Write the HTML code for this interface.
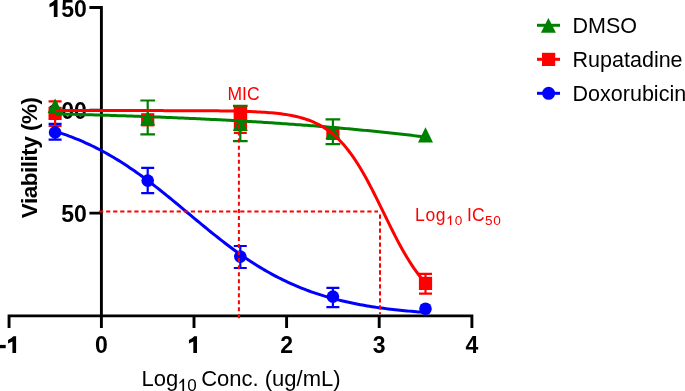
<!DOCTYPE html>
<html><head><meta charset="utf-8"><style>
html,body{margin:0;padding:0;background:#fff;width:685px;height:391px;overflow:hidden}
svg{position:absolute;left:0;top:0;display:block;will-change:transform}
text{font-family:"Liberation Sans",sans-serif}
</style></head><body>
<svg width="685" height="391" viewBox="0 0 685 391">
<g font-family="Liberation Sans, sans-serif" font-weight="bold" font-size="23" fill="#000">
<path d="M57.50 -0.01 L57.50 16.90 L53.82 16.90 L53.82 5.40 L49.45 7.24 L49.45 3.90 L52.90 1.83 L54.74 -0.01 Z" fill="#000"/>
<text x="86.8" y="16.9" text-anchor="end">50</text>
<path d="M57.50 102.50 L57.50 119.40 L53.82 119.40 L53.82 107.90 L49.45 109.74 L49.45 106.41 L52.90 104.34 L54.74 102.50 Z" fill="#000"/>
<text x="86.8" y="119.4" text-anchor="end">00</text>
<text x="86.8" y="222.1" text-anchor="end">50</text>
<text x="101.40" y="353.1" text-anchor="middle">0</text>
<text x="286.60" y="353.1" text-anchor="middle">2</text>
<text x="379.20" y="353.1" text-anchor="middle">3</text>
<text x="471.80" y="353.1" text-anchor="middle">4</text>
</g>
<rect x="-0.5" y="344.9" width="6.2" height="3.3" fill="#000"/>
<path d="M16.10 336.20 L16.10 353.10 L12.42 353.10 L12.42 341.60 L8.05 343.44 L8.05 340.11 L11.50 338.04 L13.34 336.20 Z" fill="#000"/>
<path d="M197.00 336.20 L197.00 353.10 L193.32 353.10 L193.32 341.60 L188.95 343.44 L188.95 340.11 L192.40 338.04 L194.24 336.20 Z" fill="#000"/>
<text font-family="Liberation Sans, sans-serif" font-weight="bold" font-size="22.5" letter-spacing="-0.5" fill="#000" text-anchor="middle" transform="translate(36.9 157.85) rotate(-90)">Viability (%)</text>
<g font-family="Liberation Sans, sans-serif" font-size="22" fill="#000"><text x="141.5" y="385.7">Log</text><text x="201.2" y="385.7">Conc. (ug/mL)</text></g>
<path d="M184.10 378.73 L184.10 390.90 L182.40 390.90 L182.40 381.62 L179.34 383.66 L179.34 382.38 L181.89 379.92 L182.74 378.73 Z" fill="#000"/>
<text font-family="Liberation Sans, sans-serif" font-size="17" fill="#000" x="187.3" y="390.9">0</text>
<path d="M89.4 7.5 H101.4 V315.9" stroke="#000" stroke-width="2.9" fill="none"/>
<path d="M89.4 110.3 H101.4 M89.4 213.1 H101.4" stroke="#000" stroke-width="2.9"/>
<path d="M9.05 327.9 V315.9 H471.9 V327.9" stroke="#000" stroke-width="2.9" fill="none"/>
<path d="M101.40 315.9 V327.9 M194.00 315.9 V327.9 M286.60 315.9 V327.9 M379.20 315.9 V327.9" stroke="#000" stroke-width="2.9"/>
<path d="M55.10 123.80 V139.60 M48.60 123.80 H61.60 M48.60 139.60 H61.60" stroke="#0000ff" stroke-width="2.2" fill="none"/>
<path d="M147.70 167.80 V193.10 M141.20 167.80 H154.20 M141.20 193.10 H154.20" stroke="#0000ff" stroke-width="2.2" fill="none"/>
<path d="M240.30 246.00 V268.00 M233.80 246.00 H246.80 M233.80 268.00 H246.80" stroke="#0000ff" stroke-width="2.2" fill="none"/>
<path d="M332.90 287.90 V307.20 M326.40 287.90 H339.40 M326.40 307.20 H339.40" stroke="#0000ff" stroke-width="2.2" fill="none"/>
<path d="M55.10 101.30 V126.00 M48.60 101.30 H61.60 M48.60 126.00 H61.60" stroke="#ff0000" stroke-width="2.2" fill="none"/>
<path d="M425.50 273.90 V293.60 M419.00 273.90 H432.00 M419.00 293.60 H432.00" stroke="#ff0000" stroke-width="2.2" fill="none"/>
<path d="M240.30 118.00 V132.80 M233.80 132.80 H246.80" stroke="#ff0000" stroke-width="2.2" fill="none"/>
<path d="M147.70 100.50 V134.30 M140.35 100.50 H155.05 M140.35 134.30 H155.05" stroke="#008000" stroke-width="2.2" fill="none"/>
<path d="M240.30 105.90 V141.10 M232.95 105.90 H247.65 M232.95 141.10 H247.65" stroke="#008000" stroke-width="2.2" fill="none"/>
<path d="M332.90 119.30 V144.20 M325.55 119.30 H340.25 M325.55 144.20 H340.25" stroke="#008000" stroke-width="2.2" fill="none"/>
<circle cx="55.10" cy="132.40" r="6.3" fill="#0000ff"/>
<circle cx="147.70" cy="180.60" r="6.3" fill="#0000ff"/>
<circle cx="240.30" cy="256.60" r="6.3" fill="#0000ff"/>
<circle cx="332.90" cy="296.60" r="6.3" fill="#0000ff"/>
<circle cx="425.50" cy="308.80" r="6.3" fill="#0000ff"/>
<rect x="48.50" y="106.80" width="13.2" height="13.2" fill="#ff0000"/>
<rect x="141.10" y="113.20" width="13.2" height="13.2" fill="#ff0000"/>
<rect x="326.30" y="126.80" width="13.2" height="13.2" fill="#ff0000"/>
<rect x="418.90" y="276.80" width="13.2" height="13.2" fill="#ff0000"/>
<rect x="233.8" y="106.8" width="13.3" height="23.5" fill="#ff0000"/>
<path d="M55.10 98.50 L62.60 113.10 L47.60 113.10 Z" fill="#008000"/>
<path d="M147.70 111.00 L155.20 125.60 L140.20 125.60 Z" fill="#008000"/>
<path d="M240.30 116.30 L247.80 130.90 L232.80 130.90 Z" fill="#008000"/>
<path d="M332.90 124.70 L340.40 139.30 L325.40 139.30 Z" fill="#008000"/>
<path d="M425.50 127.15 L433.00 142.45 L418.00 142.45 Z" fill="#008000"/>
<rect x="233.8" y="106.8" width="13.3" height="13.6" fill="#ff0000"/>
<path d="M55.10 131.26 L57.43 132.00 L59.76 132.76 L62.09 133.55 L64.42 134.36 L66.75 135.20 L69.08 136.05 L71.41 136.93 L73.74 137.84 L76.07 138.77 L78.40 139.73 L80.73 140.71 L83.05 141.72 L85.38 142.76 L87.71 143.82 L90.04 144.91 L92.37 146.02 L94.70 147.17 L97.03 148.34 L99.36 149.54 L101.69 150.76 L104.02 152.02 L106.35 153.30 L108.68 154.61 L111.01 155.95 L113.34 157.32 L115.67 158.71 L118.00 160.14 L120.33 161.59 L122.66 163.06 L124.99 164.57 L127.32 166.10 L129.65 167.66 L131.98 169.24 L134.31 170.85 L136.63 172.48 L138.96 174.14 L141.29 175.82 L143.62 177.53 L145.95 179.25 L148.28 181.00 L150.61 182.77 L152.94 184.56 L155.27 186.36 L157.60 188.19 L159.93 190.03 L162.26 191.88 L164.59 193.76 L166.92 195.64 L169.25 197.53 L171.58 199.44 L173.91 201.36 L176.24 203.28 L178.57 205.21 L180.90 207.15 L183.23 209.09 L185.56 211.03 L187.88 212.98 L190.21 214.92 L192.54 216.87 L194.87 218.81 L197.20 220.75 L199.53 222.68 L201.86 224.60 L204.19 226.52 L206.52 228.43 L208.85 230.33 L211.18 232.21 L213.51 234.09 L215.84 235.94 L218.17 237.79 L220.50 239.62 L222.83 241.43 L225.16 243.22 L227.49 244.99 L229.82 246.74 L232.15 248.47 L234.48 250.18 L236.81 251.87 L239.14 253.53 L241.46 255.17 L243.79 256.78 L246.12 258.37 L248.45 259.93 L250.78 261.47 L253.11 262.98 L255.44 264.46 L257.77 265.92 L260.10 267.35 L262.43 268.75 L264.76 270.12 L267.09 271.46 L269.42 272.78 L271.75 274.07 L274.08 275.33 L276.41 276.56 L278.74 277.77 L281.07 278.94 L283.40 280.09 L285.73 281.21 L288.06 282.31 L290.39 283.37 L292.72 284.41 L295.04 285.43 L297.37 286.42 L299.70 287.38 L302.03 288.31 L304.36 289.22 L306.69 290.11 L309.02 290.97 L311.35 291.81 L313.68 292.63 L316.01 293.42 L318.34 294.19 L320.67 294.93 L323.00 295.66 L325.33 296.36 L327.66 297.05 L329.99 297.71 L332.32 298.35 L334.65 298.97 L336.98 299.58 L339.31 300.16 L341.64 300.73 L343.97 301.28 L346.29 301.81 L348.62 302.33 L350.95 302.83 L353.28 303.31 L355.61 303.78 L357.94 304.23 L360.27 304.67 L362.60 305.09 L364.93 305.50 L367.26 305.90 L369.59 306.28 L371.92 306.65 L374.25 307.01 L376.58 307.36 L378.91 307.69 L381.24 308.01 L383.57 308.33 L385.90 308.63 L388.23 308.92 L390.56 309.20 L392.89 309.47 L395.22 309.74 L397.55 309.99 L399.87 310.23 L402.20 310.47 L404.53 310.70 L406.86 310.92 L409.19 311.13 L411.52 311.34 L413.85 311.54 L416.18 311.73 L418.51 311.91 L420.84 312.09 L423.17 312.26 L425.50 312.43" stroke="#0000ff" stroke-width="3" fill="none"/>
<path d="M99.04 211.6 H378" stroke="#ff0000" stroke-width="2" stroke-dasharray="4.2 2.86" fill="none"/>
<path d="M380 214.5 V313.9" stroke="#ff0000" stroke-width="2" stroke-dasharray="4.3 2.68" fill="none"/>
<path d="M238.9 110.48 V318.4" stroke="#ff0000" stroke-width="2" stroke-dasharray="4.0 3.03" fill="none"/>
<path d="M55.10 113.92 L57.43 113.97 L59.76 114.03 L62.09 114.08 L64.42 114.14 L66.75 114.20 L69.08 114.25 L71.41 114.31 L73.74 114.37 L76.07 114.43 L78.40 114.49 L80.73 114.55 L83.05 114.62 L85.38 114.68 L87.71 114.74 L90.04 114.81 L92.37 114.87 L94.70 114.94 L97.03 115.00 L99.36 115.07 L101.69 115.14 L104.02 115.21 L106.35 115.28 L108.68 115.35 L111.01 115.42 L113.34 115.49 L115.67 115.57 L118.00 115.64 L120.33 115.71 L122.66 115.79 L124.99 115.87 L127.32 115.94 L129.65 116.02 L131.98 116.10 L134.31 116.18 L136.63 116.26 L138.96 116.34 L141.29 116.42 L143.62 116.51 L145.95 116.59 L148.28 116.68 L150.61 116.76 L152.94 116.85 L155.27 116.94 L157.60 117.03 L159.93 117.12 L162.26 117.21 L164.59 117.30 L166.92 117.40 L169.25 117.49 L171.58 117.59 L173.91 117.68 L176.24 117.78 L178.57 117.88 L180.90 117.98 L183.23 118.08 L185.56 118.18 L187.88 118.29 L190.21 118.39 L192.54 118.50 L194.87 118.60 L197.20 118.71 L199.53 118.82 L201.86 118.93 L204.19 119.04 L206.52 119.15 L208.85 119.27 L211.18 119.38 L213.51 119.50 L215.84 119.62 L218.17 119.74 L220.50 119.86 L222.83 119.98 L225.16 120.10 L227.49 120.22 L229.82 120.35 L232.15 120.48 L234.48 120.60 L236.81 120.73 L239.14 120.87 L241.46 121.00 L243.79 121.13 L246.12 121.27 L248.45 121.40 L250.78 121.54 L253.11 121.68 L255.44 121.82 L257.77 121.97 L260.10 122.11 L262.43 122.26 L264.76 122.40 L267.09 122.55 L269.42 122.70 L271.75 122.85 L274.08 123.01 L276.41 123.16 L278.74 123.32 L281.07 123.48 L283.40 123.64 L285.73 123.80 L288.06 123.96 L290.39 124.13 L292.72 124.29 L295.04 124.46 L297.37 124.63 L299.70 124.80 L302.03 124.98 L304.36 125.15 L306.69 125.33 L309.02 125.51 L311.35 125.69 L313.68 125.87 L316.01 126.06 L318.34 126.24 L320.67 126.43 L323.00 126.62 L325.33 126.81 L327.66 127.00 L329.99 127.20 L332.32 127.40 L334.65 127.60 L336.98 127.80 L339.31 128.00 L341.64 128.21 L343.97 128.41 L346.29 128.62 L348.62 128.83 L350.95 129.05 L353.28 129.26 L355.61 129.48 L357.94 129.70 L360.27 129.92 L362.60 130.15 L364.93 130.37 L367.26 130.60 L369.59 130.83 L371.92 131.06 L374.25 131.30 L376.58 131.53 L378.91 131.77 L381.24 132.01 L383.57 132.25 L385.90 132.50 L388.23 132.75 L390.56 133.00 L392.89 133.25 L395.22 133.50 L397.55 133.76 L399.87 134.02 L402.20 134.28 L404.53 134.54 L406.86 134.81 L409.19 135.08 L411.52 135.35 L413.85 135.62 L416.18 135.90 L418.51 136.17 L420.84 136.45 L423.17 136.73 L425.50 137.02" stroke="#008000" stroke-width="3" fill="none"/>
<path d="M55.10 110.60 L57.43 110.60 L59.76 110.60 L62.09 110.60 L64.42 110.60 L66.75 110.60 L69.08 110.60 L71.41 110.60 L73.74 110.60 L76.07 110.60 L78.40 110.60 L80.73 110.60 L83.05 110.60 L85.38 110.60 L87.71 110.60 L90.04 110.60 L92.37 110.60 L94.70 110.60 L97.03 110.60 L99.36 110.60 L101.69 110.60 L104.02 110.60 L106.35 110.60 L108.68 110.60 L111.01 110.60 L113.34 110.60 L115.67 110.60 L118.00 110.60 L120.33 110.60 L122.66 110.60 L124.99 110.60 L127.32 110.60 L129.65 110.60 L131.98 110.60 L134.31 110.60 L136.63 110.61 L138.96 110.61 L141.29 110.61 L143.62 110.61 L145.95 110.61 L148.28 110.61 L150.61 110.61 L152.94 110.61 L155.27 110.62 L157.60 110.62 L159.93 110.62 L162.26 110.62 L164.59 110.63 L166.92 110.63 L169.25 110.63 L171.58 110.64 L173.91 110.64 L176.24 110.64 L178.57 110.65 L180.90 110.65 L183.23 110.66 L185.56 110.67 L187.88 110.67 L190.21 110.68 L192.54 110.69 L194.87 110.70 L197.20 110.71 L199.53 110.72 L201.86 110.73 L204.19 110.75 L206.52 110.76 L208.85 110.78 L211.18 110.79 L213.51 110.81 L215.84 110.84 L218.17 110.86 L220.50 110.88 L222.83 110.91 L225.16 110.94 L227.49 110.98 L229.82 111.02 L232.15 111.06 L234.48 111.10 L236.81 111.15 L239.14 111.21 L241.46 111.27 L243.79 111.33 L246.12 111.40 L248.45 111.48 L250.78 111.57 L253.11 111.66 L255.44 111.77 L257.77 111.88 L260.10 112.01 L262.43 112.14 L264.76 112.30 L267.09 112.46 L269.42 112.64 L271.75 112.84 L274.08 113.06 L276.41 113.30 L278.74 113.56 L281.07 113.85 L283.40 114.16 L285.73 114.50 L288.06 114.88 L290.39 115.29 L292.72 115.74 L295.04 116.23 L297.37 116.77 L299.70 117.36 L302.03 118.00 L304.36 118.69 L306.69 119.46 L309.02 120.28 L311.35 121.19 L313.68 122.17 L316.01 123.23 L318.34 124.39 L320.67 125.65 L323.00 127.01 L325.33 128.48 L327.66 130.07 L329.99 131.78 L332.32 133.63 L334.65 135.62 L336.98 137.75 L339.31 140.03 L341.64 142.47 L343.97 145.07 L346.29 147.84 L348.62 150.78 L350.95 153.89 L353.28 157.17 L355.61 160.63 L357.94 164.25 L360.27 168.04 L362.60 171.99 L364.93 176.08 L367.26 180.32 L369.59 184.68 L371.92 189.16 L374.25 193.73 L376.58 198.39 L378.91 203.10 L381.24 207.86 L383.57 212.64 L385.90 217.41 L388.23 222.17 L390.56 226.89 L392.89 231.54 L395.22 236.11 L397.55 240.59 L399.87 244.95 L402.20 249.19 L404.53 253.29 L406.86 257.23 L409.19 261.02 L411.52 264.64 L413.85 268.10 L416.18 271.38 L418.51 274.49 L420.84 277.43 L423.17 280.20 L425.50 282.80" stroke="#ff0000" stroke-width="3" fill="none"/>
<text font-family="Liberation Sans, sans-serif" font-size="17.5" fill="#ff0000" x="227.5" y="100">MIC</text>
<g font-family="Liberation Sans, sans-serif" fill="#ff0000"><text font-size="17.5" x="415.1" y="220.8" letter-spacing="0.6">Log</text><text font-size="17.5" x="467.1" y="220.8">IC</text><text font-size="13.6" x="454.8" y="224.9">0</text><text font-size="13.6" x="484.9" y="224.9" letter-spacing="0.9">50</text></g>
<path d="M451.30 215.38 L451.30 224.90 L449.97 224.90 L449.97 217.64 L447.58 219.23 L447.58 218.24 L449.57 216.31 L450.24 215.38 Z" fill="#ff0000"/>
<path d="M537 25.3 H560" stroke="#008000" stroke-width="3"/><path d="M548.40 18.10 L555.90 32.70 L540.90 32.70 Z" fill="#008000"/>
<path d="M537 59.3 H560" stroke="#ff0000" stroke-width="3"/><rect x="542.00" y="52.80" width="13.2" height="13.2" fill="#ff0000"/>
<path d="M537 93.3 H560" stroke="#0000ff" stroke-width="3"/><circle cx="548.60" cy="93.30" r="6.5" fill="#0000ff"/>
<g font-family="Liberation Sans, sans-serif" font-size="21.5" fill="#000"><text x="572.6" y="32.6">DMSO</text><text x="572.6" y="66.9">Rupatadine</text><text x="572.6" y="100.7">Doxorubicin</text></g>
</svg>
</body></html>
